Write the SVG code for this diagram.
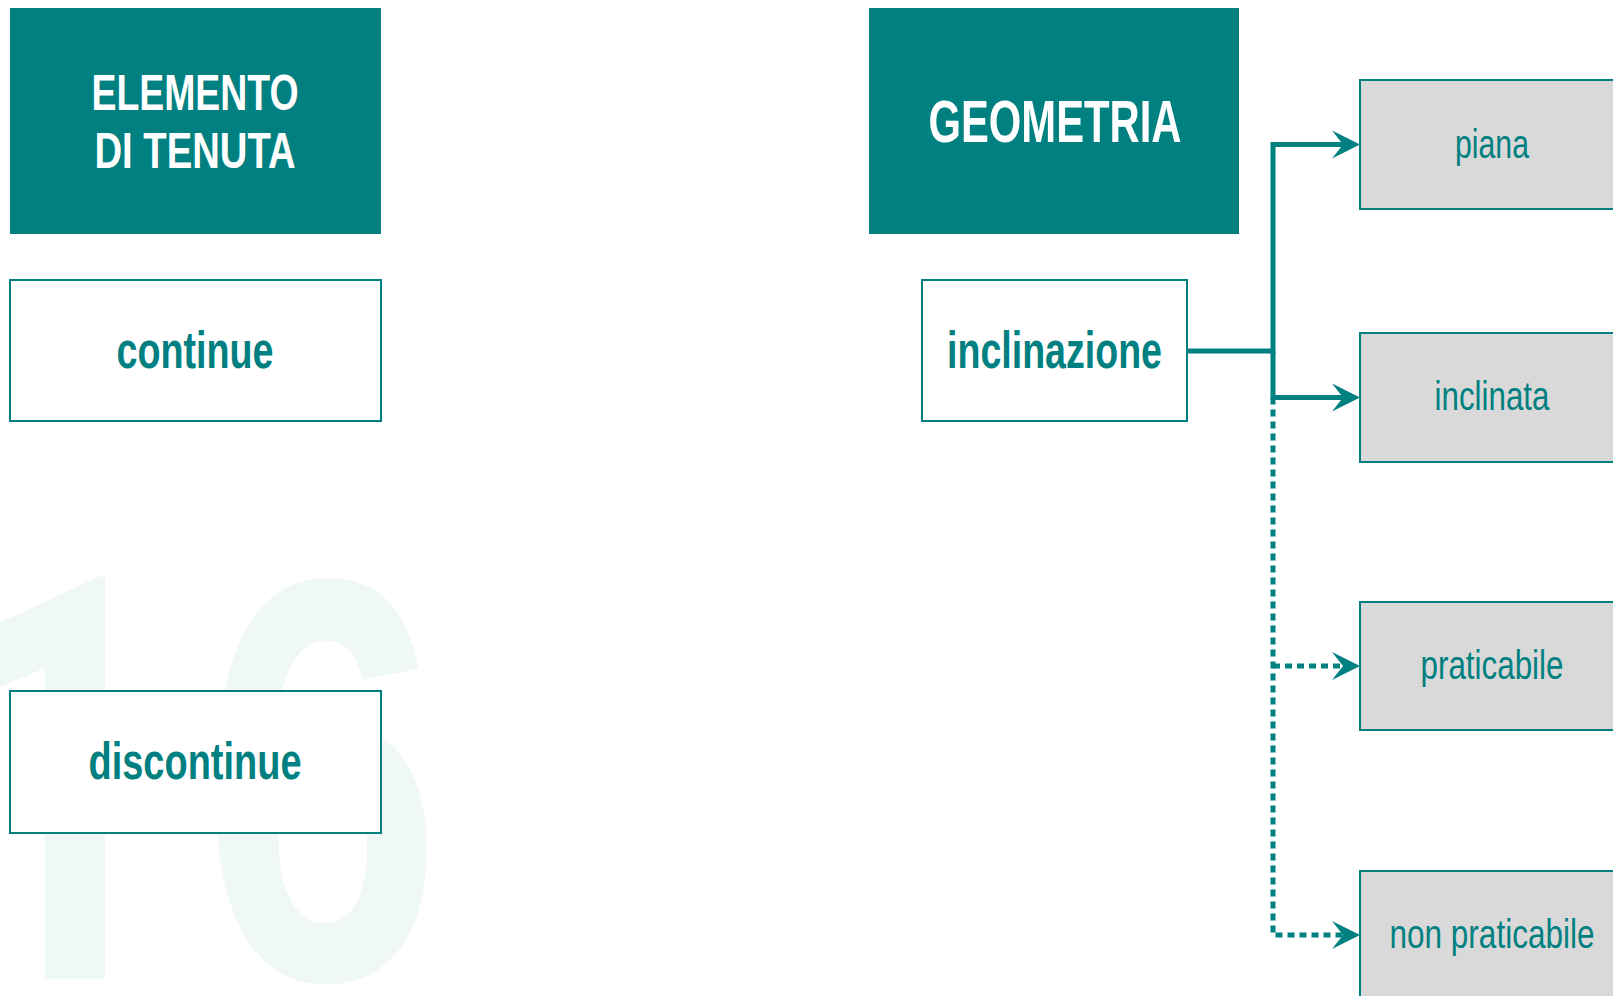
<svg xmlns="http://www.w3.org/2000/svg" width="1613" height="996" viewBox="0 0 1613 996">
<style>
.hdr{fill:#008080}
.hdrt{fill:#ffffff;font-family:"Liberation Sans Narrow","Liberation Sans",Arial,sans-serif;font-weight:bold;text-anchor:middle}
.wbox{fill:#ffffff;stroke:#008080;stroke-width:2}
.gbox{fill:#d9d9d9;stroke:#008080;stroke-width:2}
.bt{fill:#008080;font-family:"Liberation Sans Narrow","Liberation Sans",Arial,sans-serif;font-weight:bold;font-size:52px;text-anchor:middle}
.rt{fill:#008080;font-family:"Liberation Sans Narrow","Liberation Sans",Arial,sans-serif;font-size:40px;text-anchor:middle}
.ln{fill:none;stroke:#008080;stroke-width:5}
.dot{stroke-dasharray:7 5}
.wm{fill:#f0f8f6;font-family:Roboto,"Liberation Sans",sans-serif;font-weight:bold;font-size:565px}
</style>
<defs>
<marker id="ah" markerUnits="userSpaceOnUse" markerWidth="30" markerHeight="30" viewBox="0 0 30 30" refX="12" refY="15" orient="auto">
<path d="M1,1 L29,15 L1,29 L12,15 Z" fill="#008080"/>
</marker>
</defs>
<rect width="1613" height="996" fill="#ffffff"/>
<g id="watermark">
<text class="wm" transform="scale(0.76,1)" y="979"><tspan x="-83">1</tspan><tspan x="263" font-family="'Liberation Sans',Arial,sans-serif" font-size="574">6</tspan></text>
</g>
<g id="connectors">
<path class="ln" d="M1187,351 H1273 V144.5 H1343" marker-end="url(#ah)"/>
<path class="ln" d="M1273,351 V397.5 H1343" marker-end="url(#ah)"/>
<path class="ln dot" d="M1273,397.5 V935 H1343" marker-end="url(#ah)"/>
<path class="ln dot" d="M1273,666 H1343" marker-end="url(#ah)"/>
</g>
<g id="node-elemento">
<rect class="hdr" x="10" y="8" width="371" height="226"/>
<text class="hdrt" font-size="50" x="195" y="110" textLength="207" lengthAdjust="spacingAndGlyphs">ELEMENTO</text>
<text class="hdrt" font-size="50" x="195" y="168" textLength="201" lengthAdjust="spacingAndGlyphs">DI TENUTA</text>
</g>
<g id="node-continue">
<rect class="wbox" x="10" y="280" width="371" height="141"/>
<text class="bt" x="195" y="368" textLength="157" lengthAdjust="spacingAndGlyphs">continue</text>
</g>
<g id="node-discontinue">
<rect class="wbox" x="10" y="691" width="371" height="142"/>
<text class="bt" x="195" y="779" textLength="213" lengthAdjust="spacingAndGlyphs">discontinue</text>
</g>
<g id="node-geometria">
<rect class="hdr" x="869" y="8" width="370" height="226"/>
<text class="hdrt" font-size="59" x="1055" y="142" textLength="253" lengthAdjust="spacingAndGlyphs">GEOMETRIA</text>
</g>
<g id="node-inclinazione">
<rect class="wbox" x="922" y="280" width="265" height="141"/>
<text class="bt" x="1054.5" y="368" textLength="215" lengthAdjust="spacingAndGlyphs">inclinazione</text>
</g>
<g id="node-piana">
<rect class="gbox" x="1360" y="80" width="300" height="129"/>
<text class="rt" x="1492" y="158" textLength="74" lengthAdjust="spacingAndGlyphs">piana</text>
</g>
<g id="node-inclinata">
<rect class="gbox" x="1360" y="333" width="300" height="129"/>
<text class="rt" x="1492" y="410" textLength="115" lengthAdjust="spacingAndGlyphs">inclinata</text>
</g>
<g id="node-praticabile">
<rect class="gbox" x="1360" y="602" width="300" height="128"/>
<text class="rt" x="1492" y="679" textLength="143" lengthAdjust="spacingAndGlyphs">praticabile</text>
</g>
<g id="node-non-praticabile">
<rect class="gbox" x="1360" y="871" width="300" height="160"/>
<text class="rt" x="1492" y="948" textLength="205" lengthAdjust="spacingAndGlyphs">non praticabile</text>
</g>
</svg>
